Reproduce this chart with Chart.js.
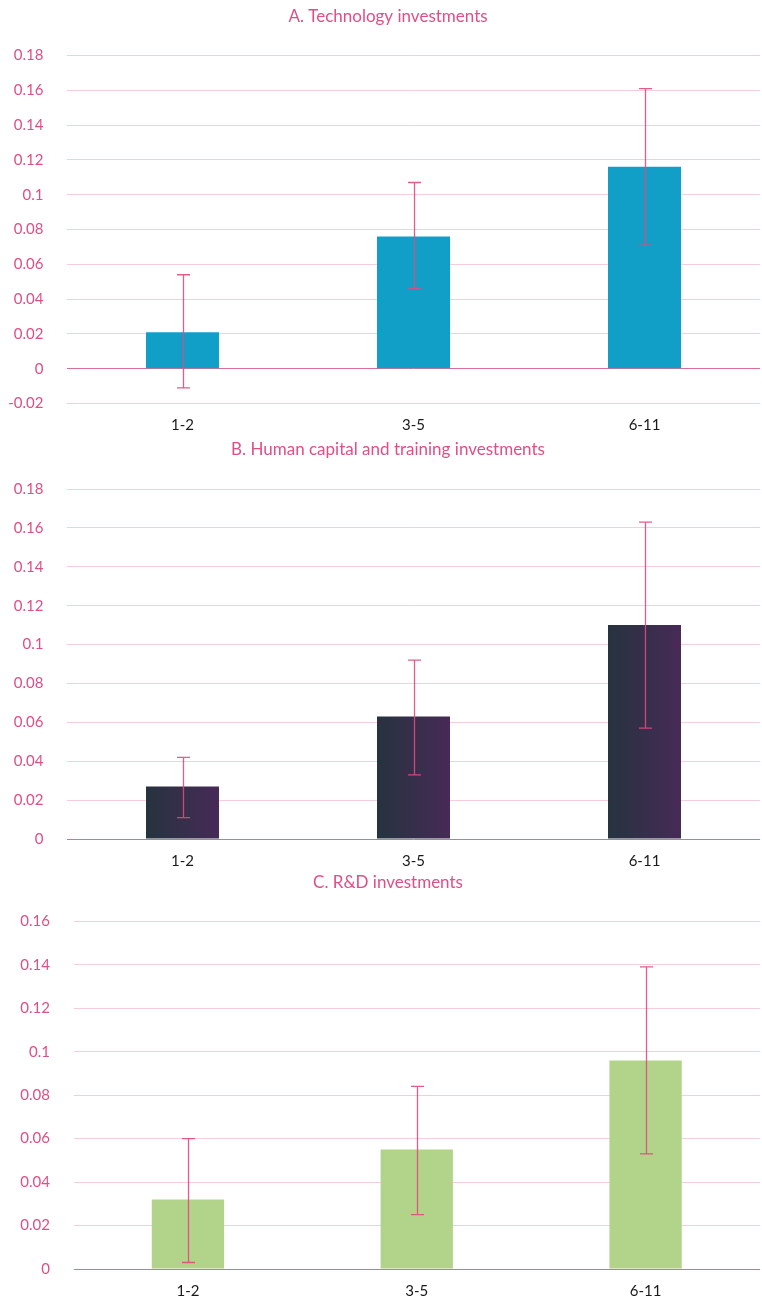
<!DOCTYPE html>
<html><head><meta charset="utf-8">
<script src="https://cdn.jsdelivr.net/npm/chart.js@4.4.1/dist/chart.umd.min.js"></script>
<style>
html,body{margin:0;padding:0;background:#fff}
body{width:762px;height:1297px;position:relative;overflow:hidden}
canvas{position:absolute;left:0}
</style>
</head><body>
<canvas id="cA" width="762" height="432" style="top:0px"></canvas>
<canvas id="cB" width="762" height="434" style="top:432px"></canvas>
<canvas id="cC" width="762" height="431" style="top:866px"></canvas>
<script>
const categories = ['1-2', '3-5', '6-11'];

const techTitle = 'A. Technology investments';
const techValues = [0.021, 0.076, 0.116];
const techLower = [-0.011, 0.046, 0.071];
const techUpper = [0.054, 0.107, 0.161];
const techTickValues = [-0.02, 0, 0.02, 0.04, 0.06, 0.08, 0.1, 0.12, 0.14, 0.16, 0.18];
const techTickLabels = ['-0.02', '0', '0.02', '0.04', '0.06', '0.08', '0.1', '0.12', '0.14', '0.16', '0.18'];

const humanTitle = 'B. Human capital and training investments';
const humanValues = [0.027, 0.063, 0.110];
const humanLower = [0.011, 0.033, 0.057];
const humanUpper = [0.042, 0.092, 0.163];
const humanTickValues = [0, 0.02, 0.04, 0.06, 0.08, 0.1, 0.12, 0.14, 0.16, 0.18];
const humanTickLabels = ['0', '0.02', '0.04', '0.06', '0.08', '0.1', '0.12', '0.14', '0.16', '0.18'];

const rdTitle = 'C. R&D investments';
const rdValues = [0.032, 0.055, 0.096];
const rdLower = [0.003, 0.025, 0.053];
const rdUpper = [0.060, 0.084, 0.139];
const rdTickValues = [0, 0.02, 0.04, 0.06, 0.08, 0.1, 0.12, 0.14, 0.16];
const rdTickLabels = ['0', '0.02', '0.04', '0.06', '0.08', '0.1', '0.12', '0.14', '0.16'];

const PINK = '#df4f86';
const GRID = '#f6cddb';
const ZERO = '#d86e96';
const FONT = 'Lato';

const titlePlugin = {
  id: 'ownTitle',
  afterDraw(chart, args, opts) {
    const ctx = chart.ctx;
    ctx.save();
    ctx.fillStyle = opts.color;
    ctx.font = opts.font;
    ctx.textAlign = 'center';
    ctx.textBaseline = 'middle';
    ctx.fillText(opts.text, opts.x, opts.y);
    ctx.restore();
  }
};

const errorBarPlugin = {
  id: 'errorBars',
  afterDatasetsDraw(chart, args, opts) {
    const ctx = chart.ctx;
    const meta = chart.getDatasetMeta(0);
    const y = chart.scales.y;
    ctx.save();
    ctx.strokeStyle = opts.color;
    ctx.lineWidth = opts.width;
    meta.data.forEach((bar, i) => {
      const x = Math.round(bar.x) + 0.5;
      const yl = y.getPixelForValue(opts.lower[i]);
      const yu = y.getPixelForValue(opts.upper[i]);
      const c = opts.cap;
      ctx.beginPath();
      ctx.moveTo(x, yl); ctx.lineTo(x, yu);
      ctx.moveTo(x - c, yl); ctx.lineTo(x + c, yl);
      ctx.moveTo(x - c, yu); ctx.lineTo(x + c, yu);
      ctx.stroke();
    });
    ctx.restore();
  }
};

const gradientPlugin = {
  id: 'barGradient',
  beforeDatasetsDraw(chart, args, opts) {
    if (!opts.from) return;
    const ctx = chart.ctx;
    chart.getDatasetMeta(0).data.forEach(bar => {
      const g = ctx.createLinearGradient(bar.x - bar.width / 2, 0, bar.x + bar.width / 2, 0);
      g.addColorStop(0, opts.from);
      g.addColorStop(1, opts.to);
      bar.options = Object.assign({}, bar.options, { backgroundColor: g });
    });
  }
};

function makeChart(id, cfg) {
  const tickMap = new Map(cfg.tickValues.map((v, i) => [v, cfg.tickLabels[i]]));
  return new Chart(document.getElementById(id), {
    type: 'bar',
    data: {
      labels: categories,
      datasets: [{
        data: cfg.values,
        backgroundColor: cfg.color,
        borderWidth: 0,
        categoryPercentage: 1,
        barPercentage: 0.316
      }]
    },
    options: {
      responsive: false,
      animation: false,
      devicePixelRatio: 1,
      layout: { padding: { left: 0, right: 2, top: cfg.areaTop, bottom: 0 } },
      plugins: {
        legend: { display: false },
        tooltip: { enabled: false },
        title: { display: false },
        ownTitle: { text: cfg.title, color: PINK, font: '17px ' + FONT, x: 388, y: cfg.titleY },
        errorBars: { lower: cfg.lower, upper: cfg.upper, color: 'rgba(224,74,125,0.9)', width: 1.3, cap: 6.5 },
        barGradient: { from: cfg.gradFrom, to: cfg.gradTo }
      },
      scales: {
        x: {
          grid: { display: false, drawTicks: false },
          border: { display: false },
          ticks: { color: '#1a1a1a', font: { family: FONT, size: 15 }, padding: 13 },
          afterFit(s) { s.height = cfg.xHeight; }
        },
        y: {
          min: cfg.tickValues[0],
          max: cfg.tickValues[cfg.tickValues.length - 1],
          afterBuildTicks(s) { s.ticks = cfg.tickValues.map(v => ({ value: v })); },
          grid: {
            drawTicks: true,
            tickLength: 23.5,
            tickColor: 'rgba(0,0,0,0)',
            lineWidth: 1,
            color: c => (c.tick && Math.abs(c.tick.value) < 1e-9) ? ZERO : GRID
          },
          border: { display: false },
          ticks: {
            color: PINK,
            font: { family: FONT, size: 15 },
            padding: 0,
            callback: v => {
              for (const [k, l] of tickMap) { if (Math.abs(k - v) < 1e-9) return l; }
              return '';
            }
          },
          afterFit(s) { s.width = cfg.yWidth; }
        }
      }
    },
    plugins: [gradientPlugin, errorBarPlugin, titlePlugin]
  });
}

makeChart('cA', {
  title: techTitle, values: techValues, lower: techLower, upper: techUpper,
  tickValues: techTickValues, tickLabels: techTickLabels,
  color: '#119fc8', titleY: 16.5, areaTop: 55.5, xHeight: 28.5, yWidth: 67
});
makeChart('cB', {
  title: humanTitle, values: humanValues, lower: humanLower, upper: humanUpper,
  tickValues: humanTickValues, tickLabels: humanTickLabels,
  color: '#2f2f48', gradFrom: '#26333f', gradTo: '#472a56',
  titleY: 18, areaTop: 57, xHeight: 27, yWidth: 67
});
makeChart('cC', {
  title: rdTitle, values: rdValues, lower: rdLower, upper: rdUpper,
  tickValues: rdTickValues, tickLabels: rdTickLabels,
  color: '#b2d38a', titleY: 16.5, areaTop: 55.3, xHeight: 28, yWidth: 73.5
});
</script>
</body></html>
